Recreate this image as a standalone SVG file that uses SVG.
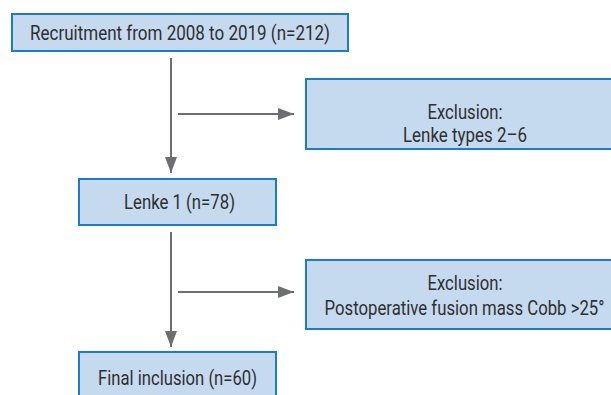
<svg xmlns="http://www.w3.org/2000/svg" width="611" height="395" viewBox="0 0 611 395">
<defs>
<marker id="ah" viewBox="0 0 16 12" refX="16" refY="6" markerWidth="16" markerHeight="12" markerUnits="userSpaceOnUse" orient="auto">
<path d="M0,0 L16,6 L0,12 Z" fill="#6d6e71"/>
</marker>
<style>
.box{fill:#c6daef;stroke:#1b7dc7;stroke-width:2}
.t{font-family:Roboto,"Liberation Sans",sans-serif;font-size:20px;fill:#2f2f2f;text-anchor:middle}
.c{stroke:#6d6e71;stroke-width:2;fill:none;marker-end:url(#ah)}
</style>
</defs>
<g id="connectors">
<line class="c" x1="171" y1="58" x2="171" y2="173"/>
<line class="c" x1="178" y1="114" x2="294" y2="114"/>
<line class="c" x1="171" y1="232" x2="171" y2="347"/>
<line class="c" x1="178" y1="292" x2="294" y2="292"/>
</g>
<g id="n1">
<rect class="box" x="12" y="14" width="336" height="37"/>
<text class="t" x="180" y="39.5" textLength="300" lengthAdjust="spacingAndGlyphs">Recruitment from 2008 to 2019 (n=212)</text>
</g>
<g id="n2">
<rect class="box" x="306" y="79" width="310" height="70"/>
<text class="t" x="465" y="119" textLength="75" lengthAdjust="spacingAndGlyphs">Exclusion:</text>
<text class="t" x="465" y="142" textLength="124" lengthAdjust="spacingAndGlyphs">Lenke types 2–6</text>
</g>
<g id="n3">
<rect class="box" x="79" y="179" width="197" height="46"/>
<text class="t" x="179.5" y="209" textLength="111" lengthAdjust="spacingAndGlyphs">Lenke 1 (n=78)</text>
</g>
<g id="n4">
<rect class="box" x="306" y="260" width="310" height="69"/>
<text class="t" x="465" y="290" textLength="75" lengthAdjust="spacingAndGlyphs">Exclusion:</text>
<text class="t" x="464.5" y="315" textLength="280" lengthAdjust="spacingAndGlyphs">Postoperative fusion mass Cobb &gt;25°</text>
</g>
<g id="n5">
<rect class="box" x="79" y="352" width="197" height="50"/>
<text class="t" x="177.5" y="385" textLength="159" lengthAdjust="spacingAndGlyphs">Final inclusion (n=60)</text>
</g>
</svg>
